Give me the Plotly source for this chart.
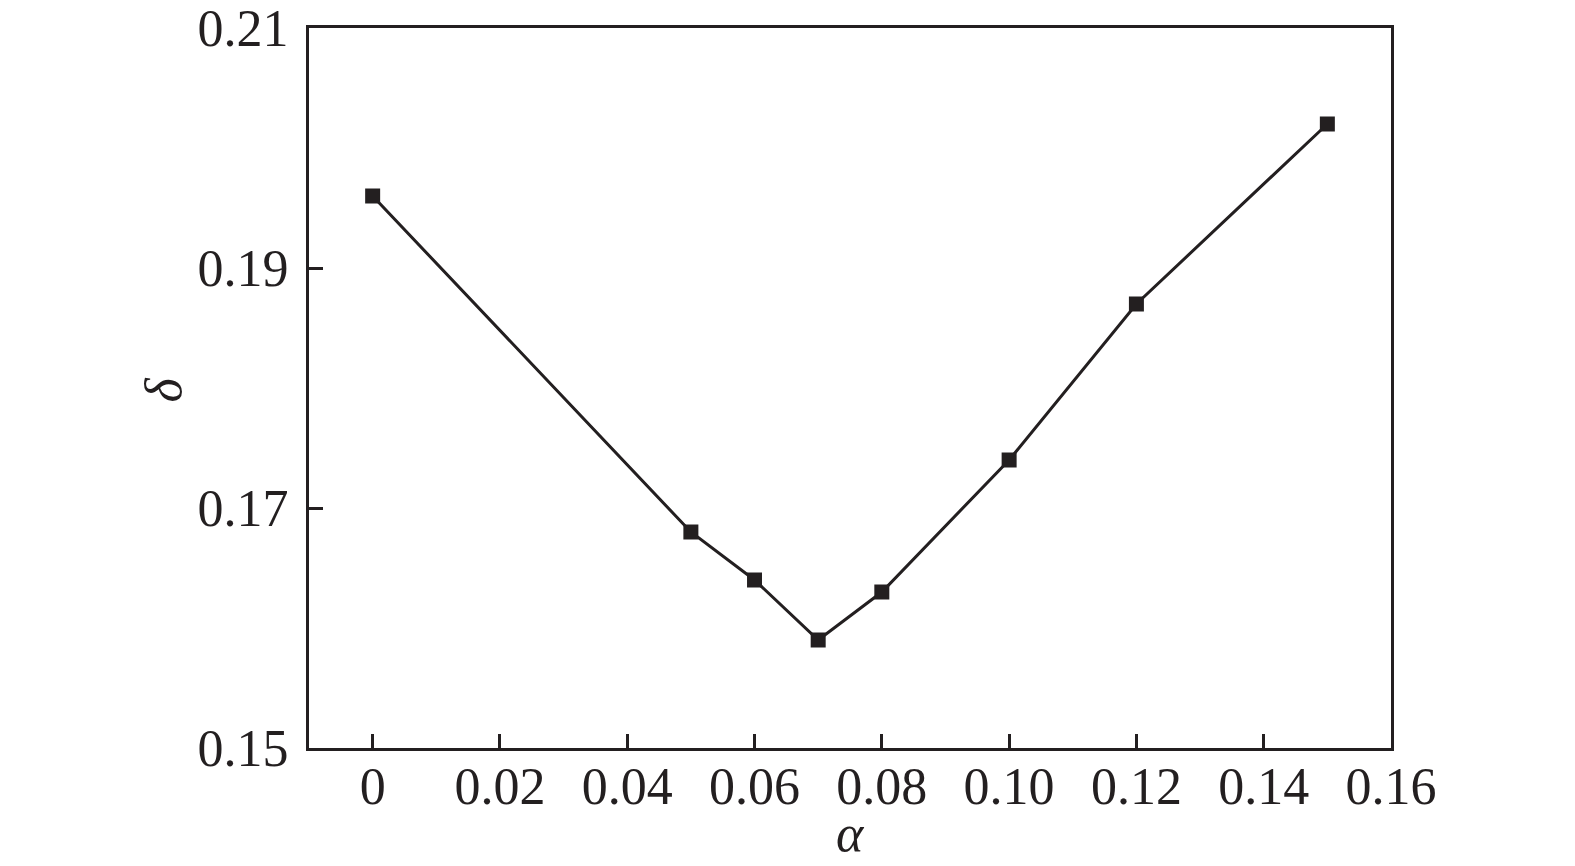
import plotly.graph_objects as go

alpha = [0, 0.05, 0.06, 0.07, 0.08, 0.10, 0.12, 0.15]
delta = [0.196, 0.168, 0.164, 0.159, 0.163, 0.174, 0.187, 0.202]

x_tickvals = [0, 0.02, 0.04, 0.06, 0.08, 0.10, 0.12, 0.14, 0.16]
x_ticktext = ["0", "0.02", "0.04", "0.06", "0.08", "0.10", "0.12", "0.14", "0.16"]
y_tickvals = [0.15, 0.17, 0.19, 0.21]
y_ticktext = ["0.15", "0.17", "0.19", "0.21"]
x_title = "α"
y_title = "δ"

ink = "#231f20"
font_family = "Liberation Serif"

fig = go.Figure()
fig.add_trace(go.Scatter(
    x=alpha, y=delta, mode="lines+markers",
    line=dict(color=ink, width=3),
    marker=dict(symbol="square", size=15, color=ink),
    showlegend=False,
))

fig.update_layout(
    width=1567, height=858,
    margin=dict(l=301, r=184, t=20, b=118),
    paper_bgcolor="white", plot_bgcolor="white",
    font=dict(family=font_family, size=52, color=ink),
    xaxis=dict(
        range=[-0.01, 0.16], tickvals=x_tickvals, ticktext=x_ticktext,
        showline=True, linecolor=ink, linewidth=3, mirror=True,
        ticks="inside", ticklen=14, tickwidth=2.5, tickcolor=ink,
        showgrid=False, zeroline=False, automargin=False,
        tickfont=dict(size=52), ticklabelstandoff=-9,
        ticklabeloverflow="allow",
    ),
    yaxis=dict(
        range=[0.15, 0.21], tickvals=y_tickvals, ticktext=y_ticktext,
        showline=True, linecolor=ink, linewidth=3, mirror=True,
        ticks="inside", ticklen=14, tickwidth=2.5, tickcolor=ink,
        showgrid=False, zeroline=False, automargin=False,
        tickfont=dict(size=52), ticklabelstandoff=7,
        ticklabeloverflow="allow",
    ),
    annotations=[
        dict(text="<i>" + x_title + "</i>", xref="paper", yref="paper",
             x=0.5005, y=-0.119, xanchor="center", yanchor="middle",
             showarrow=False, font=dict(size=52, color=ink)),
        dict(text="<i>" + y_title + "</i>", xref="paper", yref="paper",
             x=-0.134, y=0.4965, xanchor="center", yanchor="middle",
             textangle=-90, showarrow=False, font=dict(size=52, color=ink)),
    ],
)

fig.write_html("out.html")
